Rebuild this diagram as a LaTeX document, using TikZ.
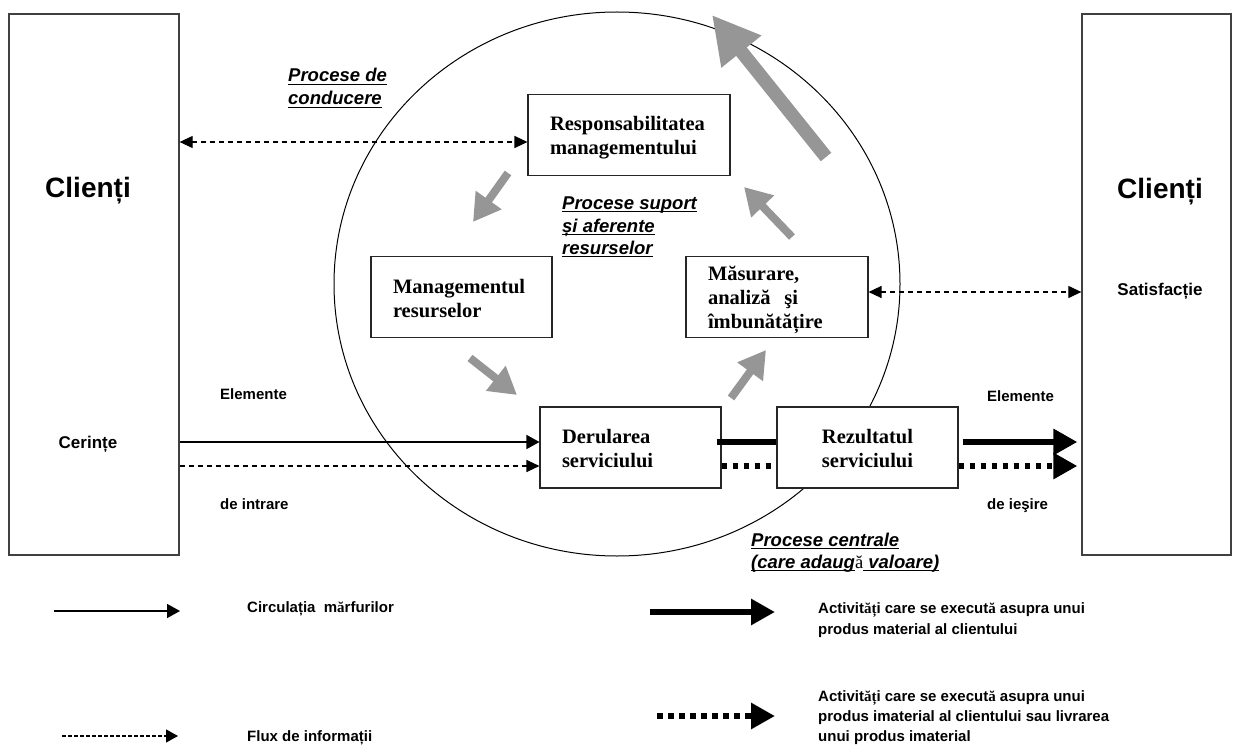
\documentclass[tikz,border=0pt]{standalone}
\usepackage{fontspec}
\setmainfont{Liberation Sans}
\newfontfamily\tnr{Liberation Serif}
\usetikzlibrary{arrows.meta,calc}
\definecolor{garrow}{RGB}{150,150,150}
\newcommand\ulx[1]{\setbox0\hbox{#1}\rlap{\rule[-3pt]{\wd0}{1.2pt}}\box0}
\newcommand\sa{{\tnr\bfseries ă}}
\newcommand\st{{\tnr\bfseries ț}}
\begin{document}
\begin{tikzpicture}[x=1pt,y=-1pt,
  bigbox/.style={draw=black!75, line width=1.3pt, inner sep=0pt},
  procbox/.style={draw=black!85, line width=1.1pt, fill=white,
    font=\tnr\bfseries\fontsize{20.5}{24}\selectfont, align=left,
    inner xsep=22pt, inner ysep=0pt, minimum height=81pt,
    text height=14pt, text depth=22pt},
  threeline/.style={text depth=48pt},
  bigname/.style={font=\bfseries\fontsize{28}{32}\selectfont, inner sep=0pt, anchor=base},
  side/.style={font=\bfseries\fontsize{15}{18}\selectfont, inner sep=0pt, anchor=base west},
  proc/.style={font=\bfseries\itshape\fontsize{18.5}{22}\selectfont, inner sep=0pt, anchor=base west},
  leg/.style={font=\bfseries\fontsize{15}{18}\selectfont, inner sep=0pt, anchor=base west},
  infoarrow/.style={line width=1.2pt, dash pattern=on 5pt off 4pt, >={Triangle[length=13pt,width=12pt]}},
  smalldash/.style={line width=1.2pt, dash pattern=on 3.5pt off 2.5pt, -{Triangle[length=12pt,width=13pt]}},
  goodsarrow/.style={line width=1.6pt, -{Triangle[length=13pt,width=14pt]}},
  thickline/.style={line width=6.5pt},
  dotline/.style={line width=6pt, dash pattern=on 5.5pt off 5.5pt},
  bigtip/.style={-{Triangle[length=24pt,width=25pt]}},
  greyarrow/.style={draw=garrow, line width=8pt, -{Triangle[length=27pt,width=30pt]}},
]
\useasboundingbox (0,0) rectangle (1240,749);
% circle of processes
\draw[line width=1pt] (617,284) ellipse [x radius=283pt, y radius=272pt];
% client boxes
\node[bigbox, minimum width=170pt, minimum height=541pt] (L) at (94,284.5) {};
\node[bigbox, minimum width=149pt, minimum height=541pt] (R) at (1156.5,284.5) {};
\node[bigname] (cl1) at (88,197) {Clienți};
\node[bigname] (cl2) at (1160,198) {Clienți};
\node[font=\bfseries\fontsize{17}{20}\selectfont, inner sep=0pt, anchor=base] (sat) at (1160,295) {Satisfacție};
\node[font=\bfseries\fontsize{17}{20}\selectfont, inner sep=0pt, anchor=base] (cer) at (88,448) {Cerințe};
% process boxes
\node[procbox, text width=158pt] (resp) at (629,135) {Responsabilitatea\\managementului};
\node[procbox, text width=137pt] (man) at (461.5,297) {Managementul\\resurselor};
\node[procbox, threeline, text width=138pt] (mas) at (777,297) {Măsurare,\\analiză~~şi\\îmbunătățire};
\node[procbox, text width=137pt] (der) at (630.5,447.5) {Derularea\\serviciului};
\node[procbox, text width=137pt, align=center] (rez) at (867.5,447.5) {Rezultatul\\serviciului};
% side labels
\node[side] (el1) at (220,399) {Elemente};
\node[side] (din) at (220,509) {de intrare};
\node[side] (el2) at (987,401) {Elemente};
\node[side] (dies) at (987,509) {de ieşire};
% process labels
\node[proc] (pc1) at (288,82) {\ulx{Procese de}};
\node[proc] (pc2) at (288,105) {\ulx{conducere}};
\node[proc] (ps1) at (562,209) {\ulx{Procese suport}};
\node[proc] (ps2) at (562,232) {\ulx{și aferente}};
\node[proc] (ps3) at (562,254) {\ulx{resurselor}};
\node[proc] (pz1) at (751,546) {\ulx{Procese centrale}};
\node[proc] (pz2) at (751,568) {\ulx{(care adaug}{\tnr\upshape\mdseries ă}\ulx{ valoare)}};
% levels
\coordinate (yA) at (0,142);
\coordinate (yB) at (0,292);
\coordinate (yC) at (0,442);
\coordinate (yD) at (0,466);
% connectors
\draw[infoarrow,<->] (L.east |- yA) -- (resp.west |- yA);
\draw[infoarrow,<->] (mas.east |- yB) -- (R.west |- yB);
\draw[goodsarrow] (L.east |- yC) -- (der.west |- yC);
\draw[infoarrow,->] (L.east |- yD) -- (der.west |- yD);
\draw[thickline] ($(der.east |- yC)+(-5,0)$) -- (rez.west |- yC);
\draw[dotline] (der.east |- yD) -- (rez.west |- yD);
\draw[thickline,bigtip] ($(rez.east |- yC)+(4,0)$) -- ($(R.west |- yC)+(-4,0)$);
\draw[dotline,bigtip] (rez.east |- yD) -- ($(R.west |- yD)+(-4,0)$);
% grey process arrows
\coordinate (gA1) at (826,157); \coordinate (gA2) at (712,15);
\coordinate (gB1) at (508,173); \coordinate (gB2) at (473,222);
\coordinate (gC1) at (792,237); \coordinate (gC2) at (744,187);
\coordinate (gD1) at (470,358); \coordinate (gD2) at (517,395);
\coordinate (gE1) at (731,398); \coordinate (gE2) at (766,350);
\draw[greyarrow, line width=13.5pt, -{Triangle[length=47pt,width=48pt]}] (gA1) -- (gA2);
\draw[greyarrow] (gB1) -- (gB2);
\draw[greyarrow] (gC1) -- (gC2);
\draw[greyarrow] (gD1) -- (gD2);
\draw[greyarrow] (gE1) -- (gE2);
% legend
\coordinate (l1a) at (54,611); \coordinate (l1b) at (180,611);
\coordinate (l2a) at (62,736); \coordinate (l2b) at (178,736);
\coordinate (l3a) at (650,612); \coordinate (l3b) at (775,612);
\coordinate (l4a) at (657,716); \coordinate (l4b) at (775,716);
\draw[goodsarrow] (l1a) -- (l1b);
\draw[smalldash] (l2a) -- (l2b);
\draw[thickline,bigtip] (l3a) -- (l3b);
\draw[dotline,bigtip] (l4a) -- (l4b);
\node[leg] (lt1) at (247,612) {Circulația~~m\sa rfurilor};
\node[leg] (lt2) at (247,741) {Flux de informații};
\node[leg] (lt3) at (818,613) {Activit\sa\st i care se execut\sa{} asupra unui};
\node[leg] (lt4) at (818,634) {produs material al clientului};
\node[leg] (lt5) at (818,701) {Activit\sa\st i care se execut\sa{} asupra unui};
\node[leg] (lt6) at (818,721) {produs imaterial al clientului sau livrarea};
\node[leg] (lt7) at (818,741) {unui produs imaterial};
\end{tikzpicture}
\end{document}
